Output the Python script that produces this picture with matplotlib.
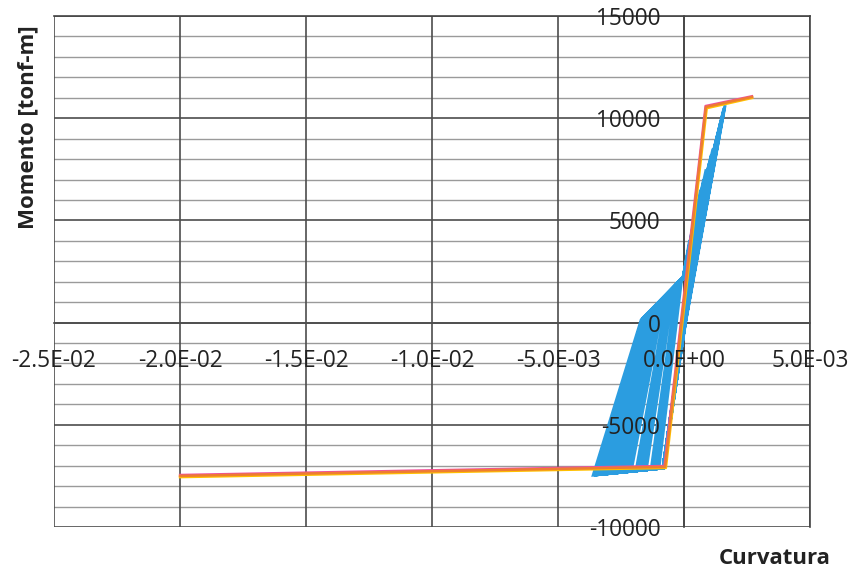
import matplotlib
matplotlib.use("Agg")
import numpy as np
import matplotlib.pyplot as plt
from matplotlib.ticker import MultipleLocator, FuncFormatter

plt.rcParams['font.family'] = ['Open Sans', 'DejaVu Sans']

# Moment-curvature envelopes
env_orange_x = [-0.0200, -0.00075, 0.00087, 0.0027]
env_orange_y = [-7500, -7060, 10550, 11040]
env_pink_x = [-0.0200, -0.00078, 0.00085, 0.0027]
env_pink_y = [-7450, -7010, 10600, 11080]
env_yellow_x = [-0.0200, -0.00072, 0.00090, 0.0027]
env_yellow_y = [-7560, -7110, 10490, 10990]

# Cyclic response (hysteresis path)
blue_x = [0.0, 0.00060, 0.00002, -0.00083, -0.0012, -0.00022, -0.00004,
          0.00111, 0.00005, -0.00083, -0.0018, -0.00059, -0.00004,
          0.00163, 0.00003, -0.00083, -0.0036, -0.0017, -0.00004,
          0.00131, 0.00003, -0.00083, -0.0025, -0.00102, -0.00004,
          0.00078, 0.00002, -0.00083, -0.0030, -0.00133, -0.00004,
          0.00150, 0.00004, -0.00083, -0.0015, -0.00041, -0.00004,
          0.00040, 0.00001, -0.00083, -0.0033, -0.00152, -0.00004,
          0.00141, 0.00004, -0.00083, -0.0021, -0.00078, -0.00004,
          0.00115, 0.00003, -0.00083, -0.0028, -0.00121, -0.00004,
          0.00156, 0.00004, -0.00083, -0.0010, -0.00010, -0.00004,
          0.00088, 0.00002, -0.00083, -0.0023, -0.00090, -0.00004,
          0.00022, 0.00001, -0.00083, -0.0035, -0.00165, -0.00004,
          0.00066, 0.00002, -0.00083, -0.0032, -0.00140, -0.00004,
          0.00048, 0.0, -0.00083, -0.0027, -0.00110, -0.00004,
          0.00160, 0.00006, -0.00083, -0.00345, -0.00161, -0.00004,
          0.00108, 0.00003, -0.00083, -0.0034, -0.00158, 0.00002,
          0.00145, 0.00005, -0.00083, -0.0031, -0.00139, -0.00004,
          0.00064, 0.00001, -0.00083, -0.0029, -0.00127, 0.00002,
          0.00135, 0.00004, -0.00083, -0.0026, -0.00109, -0.00004,
          0.00100, 0.00003, -0.00083, -0.0024, -0.00096, -0.00004,
          0.00158, 0.00005, -0.00083, -0.0022, -0.00084, 0.00002,
          0.00080, 0.00002, -0.00083, -0.0019, -0.00065, -0.00004,
          0.00125, 0.00004, -0.00083, -0.0017, -0.00053, -0.00004,
          0.00052, 0.00001, -0.00083, -0.0016, -0.00047, 0.00002,
          0.00148, 0.00005, -0.00083, -0.0013, -0.00029, -0.00004,
          0.00090, 0.00002, -0.00083, -0.0011, -0.00016, -0.00004,
          0.00012, 0.0]
blue_y = [0, 6000, 200, -7100, -7150, 1940, 2170,
          8000, 0, -7100, -7230, 1490, 2170,
          10640, 0, -7110, -7460, 130, 2170,
          9000, 0, -7110, -7320, 960, 2170,
          7000, 0, -7110, -7390, 583, 2170,
          10000, 0, -7110, -7190, 1720, 2170,
          5000, 0, -7110, -7420, 356, 2170,
          9500, 0, -7110, -7270, 1264, 2170,
          8500, 0, -7110, -7360, 734, 2170,
          10300, 0, -7110, -7130, 2095, 2170,
          7500, 0, -7110, -7300, 1111, 2170,
          4000, 0, -7110, -7450, 200, 2170,
          6500, 0, -7110, -7410, 480, 2170,
          5500, 0, -7110, -7350, 850, 2170,
          10500, 0, -7110, -7440, 243, 2170,
          8200, 0, -7110, -7434, 281, 2300,
          9800, 0, -7110, -7396, 508, 2170,
          5800, 0, -7110, -7371, 659, 2300,
          9300, 0, -7110, -7333, 885, 2170,
          7800, 0, -7110, -7308, 1036, 2170,
          10450, 0, -7110, -7283, 1188, 2300,
          6800, 0, -7110, -7245, 1415, 2170,
          8800, 0, -7110, -7220, 1566, 2170,
          5200, 0, -7110, -7207, 1641, 2300,
          9900, 0, -7110, -7169, 1868, 2170,
          7300, 0, -7110, -7144, 2019, 2170,
          3000, 0]

fig = plt.figure(figsize=(8.55, 5.73), dpi=100)
ax = fig.add_axes([0.0632, 0.0803, 0.8842, 0.8918])

xmin, xmax, ymin, ymax = -0.025, 0.005, -10000, 15000
ax.set_xlim(xmin, xmax)
ax.set_ylim(ymin, ymax)
ax.xaxis.set_major_locator(MultipleLocator(0.005))
ax.yaxis.set_major_locator(MultipleLocator(5000))


def sci_fmt(v, pos):
    if abs(v) < 1e-12:
        v = 0.0
    return f"{v:.1E}"


ax.xaxis.set_major_formatter(FuncFormatter(sci_fmt))
ax.yaxis.set_major_formatter(FuncFormatter(lambda v, p: f"{int(round(v))}"))

# Gridlines drawn beneath the data
for yv in np.arange(ymin, ymax + 1, 1000):
    major = (yv % 5000 == 0)
    ax.axhline(yv, color='#4d4d4d' if major else '#9a9a9a',
               linewidth=1.2 if major else 1.0, zorder=0)
for xv in np.arange(xmin, xmax + 1e-9, 0.005):
    ax.axvline(xv, color='#4d4d4d', linewidth=1.2, zorder=0)

for s in ['top', 'right']:
    ax.spines[s].set_color('#444444')
    ax.spines[s].set_linewidth(1.2)
ax.spines['left'].set_position(('data', 0))
ax.spines['bottom'].set_position(('data', 0))
ax.spines['left'].set_color('#444444')
ax.spines['bottom'].set_color('#4d4d4d')
ax.spines['left'].set_linewidth(1.2)
ax.spines['bottom'].set_linewidth(1.2)
for s in ax.spines.values():
    s.set_zorder(1)

ax.xaxis.set_zorder(7)
ax.yaxis.set_zorder(7)
ax.tick_params(axis='both', which='both', length=0, labelsize=16.3, colors='#222222')
ax.tick_params(axis='y', pad=17)
ax.tick_params(axis='x', pad=19)

ax.plot(blue_x, blue_y, color='#2b9de0', linewidth=2.2, solid_joinstyle='miter', zorder=3)
ax.plot(env_yellow_x, env_yellow_y, color='#ffc000', linewidth=1.8, zorder=4)
ax.plot(env_pink_x, env_pink_y, color='#f0509a', linewidth=1.6, zorder=4)
ax.plot(env_orange_x, env_orange_y, color='#ed7d31', linewidth=1.8, zorder=5)

fig.text(28 / 855, 1 - 127 / 573, 'Momento [tonf-m]', rotation=90,
         ha='center', va='center', fontsize=16, fontweight='bold', color='#222222')
fig.text(775 / 855, 1 - 558 / 573, 'Curvatura', ha='center', va='center',
         fontsize=16, fontweight='bold', color='#222222')

fig.savefig('out.png', dpi=100, facecolor='white')
